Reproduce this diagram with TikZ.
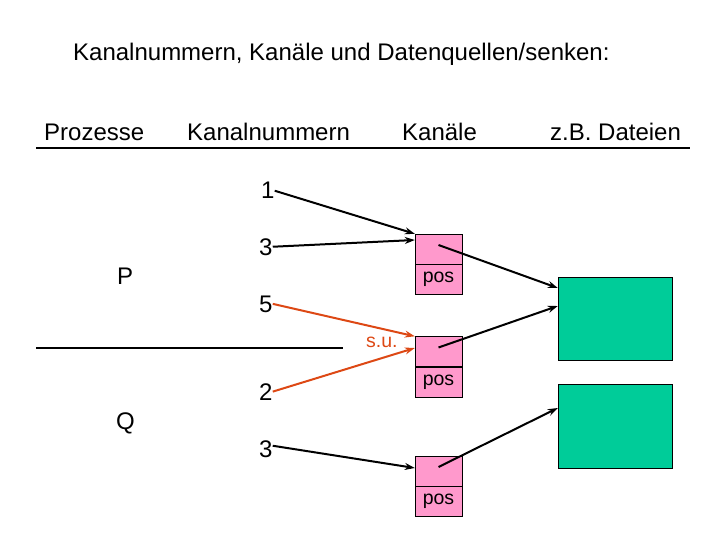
\documentclass[tikz,border=0pt]{standalone}
\usepackage{fontspec}
\setmainfont{Liberation Sans}
\usepackage{tikz}
\usetikzlibrary{arrows.meta, positioning}
\definecolor{kanalpink}{RGB}{255,153,204}
\definecolor{dateigreen}{RGB}{0,204,153}
\definecolor{sured}{RGB}{221,72,20}
\tikzstyle{txt} = [inner sep=0pt, anchor=base west, font=\fontsize{24}{28}\selectfont]
\tikzstyle{kanal} = [rectangle, draw=black, fill=kanalpink, minimum width=47pt, minimum height=30pt, inner sep=0pt]
\tikzstyle{kanalpos} = [kanal, font=\fontsize{19.5}{22}\selectfont]
\tikzstyle{datei} = [rectangle, draw=black, fill=dateigreen, minimum width=114pt, inner sep=0pt]
\tikzstyle{arrow} = [line width=2pt, -{Stealth[length=10pt,width=7pt]}]

\begin{document}
\begin{tikzpicture}[x=1pt, y=-1pt]
\useasboundingbox (0,0) rectangle (720,540);

% Title and header
\node (title) [txt] at (73,61) {Kanalnummern, Kanäle und Datenquellen/senken:};
\node (prozesse) [txt] at (44,141) {Prozesse};
\node (kanalnummern) [txt] at (187,141) {Kanalnummern};
\node (kanaele) [txt] at (402,141) {Kanäle};
\node (dateien) [txt] at (550,141) {z.B. Dateien};
\draw [line width=1.2pt] (36,148) -- (690,148);
\draw [line width=1.2pt] (36,348) -- (343,348);

% Processes
\node (P) [txt] at (117,284) {P};
\node (Q) [txt] at (116,429) {Q};

% Channel numbers
\node (p1) [txt] at (261,199) {1};
\node (p3) [txt] at (259,255) {3};
\node (p5) [txt] at (259,312) {5};
\node (q2) [txt] at (259,400) {2};
\node (q3) [txt] at (259,457) {3};

% Channels
\node (k1top) [kanal] at (438.5,249) {};
\node (k1pos) [kanalpos, below=0pt of k1top] {pos};
\node (k2top) [kanal] at (438.5,351.5) {};
\node (k2pos) [kanalpos, below=0pt of k2top] {pos};
\node (k3top) [kanal] at (438.5,471) {};
\node (k3pos) [kanalpos, below=0pt of k3top] {pos};
\node (su) [txt, text=sured, font=\fontsize{19.5}{22}\selectfont] at (366,347) {s.u.};

% Files
\node (datei1) [datei, minimum height=83pt] at (615,318.5) {};
\node (datei2) [datei, minimum height=84pt] at (615,426) {};

% Arrows
\draw [arrow] (p1.east) -- (k1top.north west);
\draw [arrow] (p3.east) -- ([yshift=9pt]k1top.west);
\draw [arrow, sured] (p5.east) -- (k2top.north west);
\draw [arrow, sured] (q2.east) -- ([yshift=3.5pt]k2top.west);
\draw [arrow] ([yshift=3pt]q3.east) -- ([yshift=3pt]k3top.west);
\draw [arrow] ([yshift=4pt]k1top.center) -- ([yshift=30.5pt]datei1.west);
\draw [arrow] ([yshift=4pt]k2top.center) -- ([yshift=12.5pt]datei1.west);
\draw [arrow] ([yshift=4pt]k3top.center) -- ([yshift=18pt]datei2.west);

\end{tikzpicture}
\end{document}
